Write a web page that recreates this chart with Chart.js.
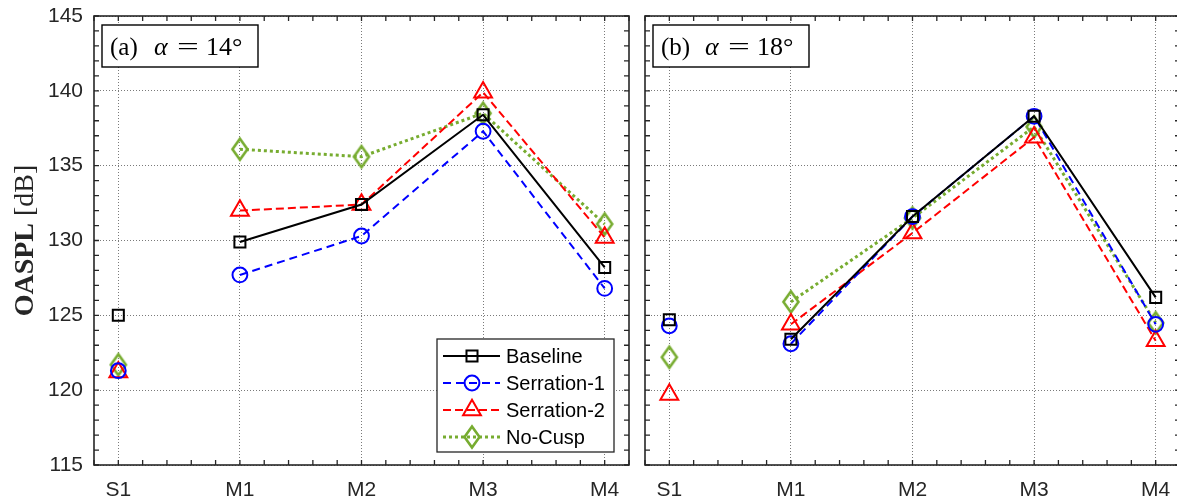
<!DOCTYPE html>
<html>
<head>
<meta charset="utf-8">
<title>OASPL</title>
<script src="https://cdn.jsdelivr.net/npm/chart.js@4.4.1/dist/chart.umd.min.js"></script>
<style>
  html, body { margin: 0; padding: 0; background: #fff; overflow: hidden; }
  #wrap { position: relative; width: 1177px; height: 501px; overflow: hidden; }
  .panel { position: absolute; top: 0; }
  #panelA { left: 0; }
  #panelB { left: 600px; }
</style>
</head>
<body>
<div id="wrap">
  <div class="panel" id="panelA"><canvas id="chartA" width="636" height="501"></canvas></div>
  <div class="panel" id="panelB"><canvas id="chartB" width="600" height="501"></canvas></div>
</div>
<script>
// measurement positions along the x axis
const categories = ['S1', 'M1', 'M2', 'M3', 'M4'];
const seriesNames = ['Baseline', 'Serration-1', 'Serration-2', 'No-Cusp'];

// OASPL [dB], alpha = 14 deg
const baseline14 = [125.0, 129.9, 132.4, 138.4, 128.2];
const serration1_14 = [121.3, 127.7, 130.3, 137.3, 126.8];
const serration2_14 = [121.2, 132.0, 132.4, 139.9, 130.2];
const noCusp14 = [121.7, 136.1, 135.6, 138.5, 131.1];

// OASPL [dB], alpha = 18 deg
const baseline18 = [124.7, 123.4, 131.6, 138.3, 126.2];
const serration1_18 = [124.3, 123.1, 131.6, 138.3, 124.4];
const serration2_18 = [119.7, 124.4, 130.5, 136.9, 123.3];
const noCusp18 = [122.2, 125.9, 131.5, 137.6, 124.5];

// axis limits
const yMin = 115, yMax = 145, yStep = 5, yMinor = 1;
const xMin = -0.2, xMax = 4.2, xMinor = 0.2;

const AXIS_COLOR = '#262626';
const GREEN = '#77ac30';
const SANS = '"Liberation Sans", Arial, Helvetica, sans-serif';
const SERIF = '"Liberation Serif", "Times New Roman", serif';

Chart.defaults.font.family = SANS;
Chart.defaults.color = AXIS_COLOR;

// taller-than-wide diamond marker
function diamondMarker(color) {
  const c = document.createElement('canvas');
  c.width = 22; c.height = 28;
  const g = c.getContext('2d');
  g.strokeStyle = color;
  g.lineWidth = 2.6;
  g.beginPath();
  g.moveTo(11, 3.5);
  g.lineTo(18.5, 14);
  g.lineTo(11, 24.5);
  g.lineTo(3.5, 14);
  g.closePath();
  g.stroke();
  return c;
}
const diamond = diamondMarker(GREEN);

const styles = [
  { color: '#000000', width: 2, dash: [], point: 'rect', radius: 7.8, pw: 2 },
  { color: '#0000ff', width: 2, dash: [8, 5], point: 'circle', radius: 7.4, pw: 2 },
  { color: '#ff0000', width: 2, dash: [8, 4], point: 'triangle', radius: 10.3, pw: 2 },
  { color: GREEN, width: 3, dash: [3, 3], point: diamond, radius: 9, pw: 2.6 }
];

function toPoints(values) {
  return values.map((v, i) => ({ x: i, y: v }));
}

function buildDatasets(seriesValues) {
  return seriesValues.map((vals, k) => {
    const s = styles[k];
    return {
      label: seriesNames[k],
      data: toPoints(vals),
      borderColor: s.color,
      borderWidth: s.width,
      borderDash: s.dash,
      backgroundColor: 'transparent',
      pointStyle: s.point,
      pointRadius: s.radius,
      pointBorderWidth: s.pw,
      pointBorderColor: s.color,
      pointBackgroundColor: 'transparent',
      tension: 0,
      // S1 is not joined to the M-series
      segment: {
        borderColor: ctx => ctx.p0DataIndex === 0 ? 'rgba(0,0,0,0)' : undefined
      }
    };
  });
}

// keep axis label overhang from shrinking the plot box
function noOverhang(s) {
  s.paddingLeft = 0;
  s.paddingRight = 0;
  s.paddingTop = 0;
  s.paddingBottom = 0;
}

// box frame, inward ticks on all four sides
const axesFrame = {
  id: 'axesFrame',
  afterDatasetsDraw(chart) {
    const { ctx, chartArea: { left, right, top, bottom } } = chart;
    const xs = chart.scales.x, ys = chart.scales.y;
    const len = 5;
    ctx.save();
    ctx.strokeStyle = AXIS_COLOR;
    ctx.lineWidth = 1.3;
    ctx.beginPath();
    const nY = Math.round((yMax - yMin) / yMinor);
    for (let k = 0; k <= nY; k++) {
      const py = ys.getPixelForValue(yMin + k * yMinor);
      ctx.moveTo(left, py); ctx.lineTo(left + len, py);
      ctx.moveTo(right, py); ctx.lineTo(right - len, py);
    }
    const nX = Math.round((xMax - xMin) / xMinor);
    for (let k = 0; k <= nX; k++) {
      const px = xs.getPixelForValue(xMin + k * xMinor);
      ctx.moveTo(px, bottom); ctx.lineTo(px, bottom - len);
      ctx.moveTo(px, top); ctx.lineTo(px, top + len);
    }
    ctx.stroke();
    ctx.lineWidth = 1.6;
    ctx.strokeRect(left, top, right - left, bottom - top);
    ctx.restore();
  }
};

// "(a)  α = 14°" style tag in the top-left corner
const panelTag = {
  id: 'panelTag',
  afterDraw(chart, args, opts) {
    const { ctx, chartArea: { left, top } } = chart;
    const bx = left + 8, by = top + 9, bw = 156, bh = 42;
    ctx.save();
    ctx.fillStyle = '#fff';
    ctx.fillRect(bx, by, bw, bh);
    ctx.strokeStyle = '#000';
    ctx.lineWidth = 1.4;
    ctx.strokeRect(bx, by, bw, bh);
    ctx.fillStyle = '#000';
    ctx.textBaseline = 'alphabetic';
    const base = by + 30;
    ctx.font = '25px ' + SERIF;
    ctx.fillText(opts.tag, bx + 8, base);
    ctx.font = 'italic 26px ' + SERIF;
    ctx.fillText('α', bx + 52, base);
    // wide math-style equals sign
    ctx.font = '25px ' + SERIF;
    ctx.save();
    ctx.translate(bx + 75, base);
    ctx.scale(1.55, 1);
    ctx.fillText('=', 0, 0);
    ctx.restore();
    ctx.font = '26px ' + SERIF;
    ctx.fillText(opts.angle, bx + 104, base);
    ctx.restore();
  }
};

// y-axis title, bold quantity and regular unit
const yTitle = {
  id: 'yTitle',
  afterDraw(chart) {
    const { ctx, chartArea: { top, bottom } } = chart;
    const bold = 'bold 28px ' + SERIF, reg = '28px ' + SERIF;
    const a = 'OASPL', b = ' [dB]';
    ctx.save();
    ctx.font = bold;
    const wa = ctx.measureText(a).width;
    ctx.font = reg;
    const wb = ctx.measureText(b).width;
    ctx.translate(33, (top + bottom) / 2);
    ctx.rotate(-Math.PI / 2);
    ctx.fillStyle = AXIS_COLOR;
    ctx.textBaseline = 'alphabetic';
    const x0 = -(wa + wb) / 2;
    ctx.font = bold;
    ctx.fillText(a, x0, 0);
    ctx.font = reg;
    ctx.fillText(b, x0 + wa, 0);
    ctx.restore();
  }
};

// legend box in the lower right, line + marker + label
const lineLegend = {
  id: 'lineLegend',
  afterDraw(chart) {
    const { ctx, chartArea: { right, bottom } } = chart;
    const bx = right - 192, by = bottom - 126, bw = 177, bh = 113;
    ctx.save();
    ctx.fillStyle = '#fff';
    ctx.fillRect(bx, by, bw, bh);
    ctx.strokeStyle = AXIS_COLOR;
    ctx.lineWidth = 1.3;
    ctx.strokeRect(bx, by, bw, bh);
    chart.data.datasets.forEach((ds, i) => {
      const cy = by + 17 + i * 27;
      ctx.strokeStyle = ds.borderColor;
      ctx.lineWidth = ds.borderWidth;
      ctx.setLineDash(ds.borderDash);
      ctx.beginPath();
      ctx.moveTo(bx + 6, cy);
      ctx.lineTo(bx + 63, cy);
      ctx.stroke();
      ctx.setLineDash([]);
      ctx.fillStyle = 'rgba(0,0,0,0)';
      ctx.lineWidth = ds.pointBorderWidth;
      Chart.helpers.drawPoint(ctx, {
        pointStyle: ds.pointStyle, radius: ds.pointRadius,
        rotation: 0, borderWidth: ds.pointBorderWidth
      }, bx + 35, cy);
      ctx.fillStyle = '#000';
      ctx.font = '20px ' + SANS;
      ctx.textBaseline = 'middle';
      ctx.fillText(ds.label, bx + 69, cy + 1);
    });
    ctx.restore();
  }
};

function makeChart(id, seriesValues, o) {
  return new Chart(document.getElementById(id), {
    type: 'line',
    data: { datasets: buildDatasets(seriesValues) },
    options: {
      responsive: false,
      animation: false,
      events: [],
      layout: {
        autoPadding: false,
        padding: { left: 0, right: o.padRight, top: 16, bottom: 0 }
      },
      plugins: {
        legend: { display: false },
        tooltip: { enabled: false },
        panelTag: { tag: o.tag, angle: o.angle }
      },
      scales: {
        x: {
          type: 'linear',
          min: xMin,
          max: xMax,
          afterBuildTicks: s => { s.ticks = categories.map((c, i) => ({ value: i })); },
          afterFit: s => {
            s.height = 36;
            noOverhang(s);
          },
          ticks: {
            callback: v => categories[v],
            font: { size: 21 },
            color: AXIS_COLOR,
            padding: 13,
            maxRotation: 0,
            autoSkip: false
          },
          grid: { color: '#7a7a7a', lineWidth: 1, drawTicks: false },
          border: { display: false, dash: [1, 2] }
        },
        y: {
          min: yMin,
          max: yMax,
          afterFit: s => {
            s.width = o.yWidth;
            noOverhang(s);
          },
          ticks: {
            stepSize: yStep,
            display: o.yLabels,
            font: { size: 21 },
            color: AXIS_COLOR,
            padding: 11
          },
          grid: { color: '#7a7a7a', lineWidth: 1, drawTicks: false },
          border: { display: false, dash: [1, 2] }
        }
      }
    },
    plugins: o.extra.concat([axesFrame, panelTag])
  });
}

makeChart('chartA', [baseline14, serration1_14, serration2_14, noCusp14], {
  padRight: 7, yWidth: 94, yLabels: true, tag: '(a)', angle: '14°', extra: [yTitle, lineLegend]
});
makeChart('chartB', [baseline18, serration1_18, serration2_18, noCusp18], {
  padRight: 20, yWidth: 45, yLabels: false, tag: '(b)', angle: '18°', extra: []
});
</script>
</body>
</html>
